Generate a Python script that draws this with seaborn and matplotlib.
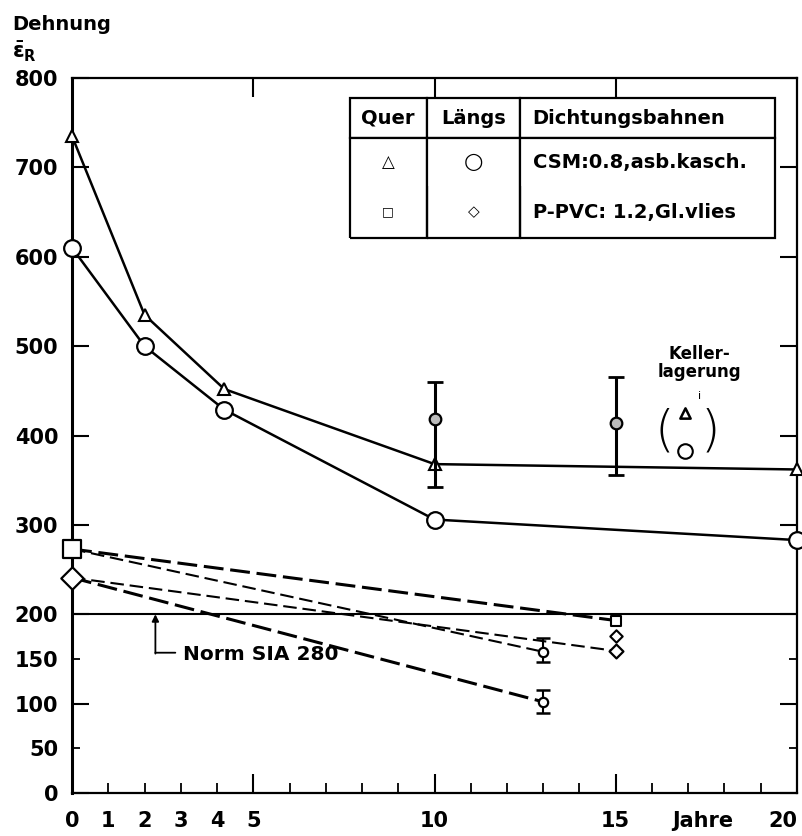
import numpy as np
import pandas as pd
import matplotlib
matplotlib.use("Agg")
import matplotlib.pyplot as plt
import seaborn as sns
from matplotlib.ticker import FixedLocator, FixedFormatter

# ---------------- data ----------------
years_csm = [0, 2, 4.2, 10, 20]
csm_quer = [735, 535, 452, 368, 362]
csm_laengs = [610, 500, 429, 306, 283]

scatter_years = [10, 15]
scatter_mean = [418, 414]
scatter_low = [342, 356]
scatter_high = [460, 466]

pvc_years_15 = [0, 15]
pvc_years_13 = [0, 13]
pvc_quer_15 = [273, 193]
pvc_quer_13 = [273, 158]
pvc_laengs_15 = [241, 159]
pvc_laengs_13 = [241, 102]
pvc_extra_year = [15]
pvc_extra_val = [176]
pvc_err_years = [13, 13]
pvc_err_mean = [158, 102]
pvc_err_low = [147, 90]
pvc_err_high = [173, 115]

keller_year = [16.9]
keller_quer = [425]
keller_laengs = [383]
norm_value = 200

x_major = [5, 10, 15]
x_minor = [0, 1, 2, 3, 4, 6, 7, 8, 9, 11, 12, 13, 14, 16, 17, 18, 19, 20]
x_minor_labels = ["0", "1", "2", "3", "4", "", "", "", "", "", "", "", "", "", "", "", "", "20"]
y_major = [0, 100, 200, 300, 400, 500, 600, 700, 800]
y_minor = [50, 150]

legend_header = ["Quer", "Längs", "Dichtungsbahnen"]
legend_rows = [["△", "○", "CSM:0.8,asb.kasch."],
               ["□", "◇", "P-PVC: 1.2,Gl.vlies"]]

# ---------------- style ----------------
sns.set_theme(style="ticks")
plt.rcParams["font.family"] = ["DejaVu Sans"]
plt.rcParams["font.weight"] = "bold"
for key in ["text.color", "axes.labelcolor", "xtick.color", "ytick.color", "axes.edgecolor"]:
    plt.rcParams[key] = "black"

fig = plt.figure(figsize=(8.03, 8.36), dpi=100)
ax = fig.add_axes([0.0897, 0.0514, 0.9028, 0.8553])
ax.set_xlim(0, 20)
ax.set_ylim(0, 800)

K = "black"

# CSM lines
sns.lineplot(x=years_csm, y=csm_quer, ax=ax, color=K, lw=1.8, estimator=None,
             marker="^", markersize=9, markerfacecolor="white",
             markeredgecolor=K, markeredgewidth=1.5, clip_on=False, zorder=4)
sns.lineplot(x=years_csm, y=csm_laengs, ax=ax, color=K, lw=1.8, estimator=None,
             marker="o", markersize=12, markerfacecolor="white",
             markeredgecolor=K, markeredgewidth=1.6, clip_on=False, zorder=4)

# scatter with error bars (Längs)
m = np.array(scatter_mean)
ax.errorbar(scatter_years, scatter_mean,
            yerr=[m - np.array(scatter_low), np.array(scatter_high) - m],
            fmt="none", ecolor=K, elinewidth=2.2, capsize=6, capthick=2, zorder=5)
sns.scatterplot(x=scatter_years, y=scatter_mean, ax=ax, marker="o", s=70,
                facecolor="#bbbbbb", edgecolor=K, linewidth=1.6, zorder=6)

# P-PVC dashed lines
sns.lineplot(x=pvc_years_15, y=pvc_quer_15, ax=ax, color=K, lw=2.2, estimator=None,
             linestyle=(0, (6.5, 2.2)), zorder=3)
sns.lineplot(x=pvc_years_13, y=pvc_quer_13, ax=ax, color=K, lw=1.5, estimator=None,
             linestyle=(0, (6.5, 2.8)), zorder=3)
sns.lineplot(x=pvc_years_15, y=pvc_laengs_15, ax=ax, color=K, lw=1.5, estimator=None,
             linestyle=(0, (6.5, 2.8)), zorder=3)
sns.lineplot(x=pvc_years_13, y=pvc_laengs_13, ax=ax, color=K, lw=2.2, estimator=None,
             linestyle=(0, (6.5, 2.2)), zorder=3)

# markers at start (year 0)
sns.scatterplot(x=[pvc_years_15[0]], y=[pvc_quer_15[0]], ax=ax, marker="s", s=150,
                facecolor="white", edgecolor=K, linewidth=1.6, zorder=6, clip_on=False)
sns.scatterplot(x=[pvc_years_15[0]], y=[pvc_laengs_15[0]], ax=ax, marker="D", s=130,
                facecolor="white", edgecolor=K, linewidth=1.6, zorder=6, clip_on=False)
# end markers
sns.scatterplot(x=[pvc_years_15[1]], y=[pvc_quer_15[1]], ax=ax, marker="s", s=45,
                facecolor="white", edgecolor=K, linewidth=1.5, zorder=6)
sns.scatterplot(x=[pvc_years_15[1]], y=[pvc_laengs_15[1]], ax=ax, marker="D", s=50,
                facecolor="white", edgecolor=K, linewidth=1.6, zorder=6)
sns.scatterplot(x=pvc_extra_year, y=pvc_extra_val, ax=ax, marker="D", s=40,
                facecolor="white", edgecolor=K, linewidth=1.5, zorder=6)
pm = np.array(pvc_err_mean)
ax.errorbar(pvc_err_years, pvc_err_mean,
            yerr=[pm - np.array(pvc_err_low), np.array(pvc_err_high) - pm],
            fmt="none", ecolor=K, elinewidth=1.5, capsize=5, capthick=1.8, zorder=5)
sns.scatterplot(x=pvc_err_years, y=pvc_err_mean, ax=ax, marker="o", s=45,
                facecolor="white", edgecolor=K, linewidth=1.6, zorder=6)

# Norm line
ax.axhline(norm_value, color=K, lw=1.5, zorder=2)
ax.annotate("", xy=(2.3, norm_value), xytext=(2.3, 156),
            arrowprops=dict(arrowstyle="-|>", color=K, lw=1.3, mutation_scale=10,
                            shrinkA=0, shrinkB=0))
ax.annotate("", xy=(2.3, 157), xytext=(2.85, 157),
            arrowprops=dict(arrowstyle="-", color=K, lw=1.3, shrinkA=0, shrinkB=0))
ax.text(3.05, 155, "Norm SIA 280", fontsize=14.5, fontweight="bold", va="center", ha="left")

# Kellerlagerung
ax.text(17.3, 481, "Keller-\nlagerung", fontsize=12, fontweight="bold",
        ha="center", va="center", linespacing=1.05)
ax.text(17.3, 444, "i", fontsize=8, fontweight="normal", ha="center", va="center")
sns.scatterplot(x=keller_year, y=keller_quer, ax=ax, marker="^", s=55,
                facecolor="white", edgecolor=K, linewidth=1.8, zorder=6)
sns.scatterplot(x=keller_year, y=keller_laengs, ax=ax, marker="o", s=110,
                facecolor="white", edgecolor=K, linewidth=1.5, zorder=6)
ax.text(16.35, 404, "(", fontsize=36, fontweight="light", ha="center", va="center")
ax.text(17.6, 404, ")", fontsize=36, fontweight="light", ha="center", va="center")

# ---------------- axes / ticks ----------------
ax.xaxis.set_major_locator(FixedLocator(x_major))
ax.xaxis.set_major_formatter(FixedFormatter([str(v) for v in x_major]))
ax.xaxis.set_minor_locator(FixedLocator(x_minor))
ax.xaxis.set_minor_formatter(FixedFormatter(x_minor_labels))
ax.yaxis.set_major_locator(FixedLocator(y_major))
ax.yaxis.set_major_formatter(FixedFormatter([str(v) for v in y_major]))
ax.yaxis.set_minor_locator(FixedLocator(y_minor))
ax.yaxis.set_minor_formatter(FixedFormatter([str(v) for v in y_minor]))

ax.tick_params(axis="x", which="major", direction="in", length=14, width=1.5,
               top=True, pad=13, labelsize=15, colors=K)
ax.tick_params(axis="x", which="minor", direction="in", length=7, width=1.3,
               top=False, pad=13, labelsize=15, colors=K)
ax.tick_params(axis="y", which="major", direction="in", length=12, width=1.5,
               right=True, pad=10, labelsize=15, colors=K)
ax.tick_params(axis="y", which="minor", direction="in", length=6, width=1.3,
               right=True, pad=10, labelsize=15, colors=K)
fig.canvas.draw()
for lab in ax.get_xticklabels(which="both") + ax.get_yticklabels(which="both"):
    lab.set_fontweight("bold")
    lab.set_color(K)
for lab in ax.get_xticklabels(which="minor"):
    if lab.get_text() == "20":
        lab.set_horizontalalignment("right")

ax.annotate("Jahre", xy=(17.4, 0), xycoords=("data", "axes fraction"),
            xytext=(0, -13), textcoords="offset points", ha="center", va="top",
            fontsize=15, fontweight="bold")

for side, lw in [("left", 2.2), ("bottom", 1.6), ("top", 1.6), ("right", 1.6)]:
    ax.spines[side].set_visible(True)
    ax.spines[side].set_linewidth(lw)
    ax.spines[side].set_color(K)

# ---------------- legend table ----------------
cells = [legend_header] + legend_rows
tbl = ax.table(cellText=cells, bbox=[0.383, 0.776, 0.587, 0.196], zorder=7)
tbl.auto_set_font_size(False)
col_w = [77, 93, 255]
row_h = [40, 48, 52]
for (r, c), cell in tbl.get_celld().items():
    cell.set_width(col_w[c])
    cell.set_height(row_h[r])
    cell.set_linewidth(1.6)
    cell.set_edgecolor(K)
    cell.set_facecolor("white")
    txt = cell.get_text()
    txt.set_fontweight("bold")
    txt.set_fontsize(14)
    txt.set_color(K)
    if c == 2:
        txt.set_ha("left")
        cell.PAD = 0.05
        cell._loc = "left"
    else:
        txt.set_ha("center")
        cell._loc = "center"
    if r == 0:
        cell.visible_edges = "closed"
    elif r == 1:
        cell.visible_edges = "LRT"
    else:
        cell.visible_edges = "LRB"
    if r > 0 and c < 2:
        txt.set_fontweight("normal")
        sizes = {(1, 0): 12, (1, 1): 16, (2, 0): 9, (2, 1): 11}
        txt.set_fontsize(sizes[(r, c)])

# y-axis title
fig.text(12 / 803, 1 - 24 / 836, "Dehnung", fontsize=14, fontweight="bold",
         ha="left", va="center", color=K)
fig.text(12 / 803, 1 - 52 / 836, r"$\bar{\mathbf{\epsilon}}_\mathbf{R}$", fontsize=15,
         ha="left", va="center", color=K)

fig.savefig("out.png", dpi=100)
